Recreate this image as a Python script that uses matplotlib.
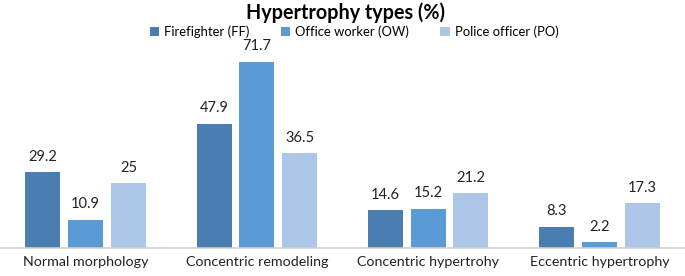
import matplotlib.pyplot as plt
import numpy as np

plt.rcParams['font.family'] = ['Lato', 'DejaVu Sans']

categories = ['Normal morphology', 'Concentric remodeling', 'Concentric hypertrohy', 'Eccentric hypertrophy']
series = ['Firefighter (FF)', 'Office worker (OW)', 'Police officer (PO)']
ff = [29.2, 47.9, 14.6, 8.3]
ow = [10.9, 71.7, 15.2, 2.2]
po = [25, 36.5, 21.2, 17.3]
colors = ['#4a7eb1', '#5b9bd5', '#abc6e6']

fig = plt.figure(figsize=(6.85, 2.76), dpi=100)
ax = fig.add_axes([0, 0.101, 1, 0.754])

x = np.arange(len(categories))
w = 0.205
offsets = [-0.25, 0, 0.25]
for vals, off, c, name in zip([ff, ow, po], offsets, colors, series):
    bars = ax.bar(x + off, vals, w, color=c, label=name)
    ax.bar_label(bars, labels=[f'{v:g}' for v in vals], padding=6, fontsize=10.5, color='#222222')

ax.set_xlim(-0.5, 3.5)
ax.set_ylim(0, 80)
ax.set_yticks([])
ax.set_xticks(x)
ax.set_xticklabels(categories, fontsize=10.3, color='#222222')
ax.tick_params(axis='x', length=0, pad=6)
for s in ['top', 'right', 'left']:
    ax.spines[s].set_visible(False)
ax.spines['bottom'].set_color('#d0d0d0')
ax.spines['bottom'].set_linewidth(1.2)

fig.text(0.505, 0.955, 'Hypertrophy types (%)', ha='center', va='center', fontsize=14.2, fontweight='bold')
fig.legend(loc='center', bbox_to_anchor=(0.517, 0.885), ncol=3, frameon=False, fontsize=9.4,
           handlelength=0.7, handleheight=0.7, handletextpad=0.4, columnspacing=2.4)

fig.savefig('out.png', dpi=100)
